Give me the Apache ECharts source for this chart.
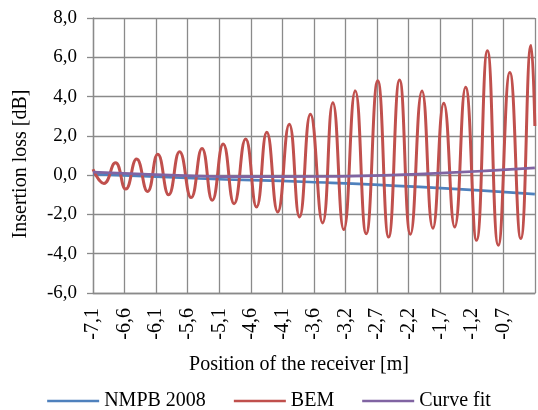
<!DOCTYPE html>
<html>
<head>
<meta charset="utf-8">
<script src="https://cdn.jsdelivr.net/npm/echarts@6/dist/echarts.min.js"></script>
<style>
  html, body { margin: 0; padding: 0; background: #fff; }
  #chart { width: 538px; height: 410px; }
</style>
</head>
<body>
<div id="chart"></div>
<script>
// x axis: receiver position [m], labelled every X_STEP metres from X_START
const X_START = -7.1;
const X_STEP = 0.4923;
const X_LABELS = ["-7,1", "-6,6", "-6,1", "-5,6", "-5,1", "-4,6", "-4,1", "-3,6", "-3,2", "-2,7", "-2,2", "-1,7", "-1,2", "-0,7", ""];

// BEM insertion loss, read at its peaks and troughs [m, dB]
const BEM_X = [-7.10, -6.93, -6.75, -6.59, -6.42, -6.25, -6.09, -5.92, -5.75, -5.57,
  -5.40, -5.24, -5.07, -4.90, -4.72, -4.55, -4.39, -4.22, -4.04, -3.88,
  -3.71, -3.52, -3.36, -3.19, -3.01, -2.84, -2.66, -2.49, -2.32, -2.15,
  -1.97, -1.80, -1.63, -1.46, -1.29, -1.12, -0.95, -0.78, -0.60, -0.43,
  -0.27, -0.21];
const BEM_Y = [0.30, -0.42, 0.63, -0.71, 0.82, -0.83, 1.06, -1.00, 1.19, -1.14,
  1.36, -1.28, 1.58, -1.45, 1.84, -1.62, 2.18, -1.87, 2.59, -2.13,
  3.10, -2.43, 3.69, -2.77, 4.29, -2.98, 4.80, -3.15, 4.85, -3.01,
  4.29, -2.70, 3.66, -2.64, 4.47, -3.32, 6.33, -3.57, 5.22, -3.23,
  6.60, 2.50];

// NMPB 2008
const NMPB_X = [-7.10, -5.44, -3.72, -2.01, -0.21];
const NMPB_Y = [0.05, -0.17, -0.35, -0.60, -0.97];

// Curve fit
const FIT_X = [-7.10, -5.44, -4.81, -3.57, -1.85, -0.21];
const FIT_Y = [0.15, -0.05, -0.08, -0.07, 0.08, 0.37];

const toSlot = (m) => (m - X_START) / X_STEP;
const pairs = (xs, ys) => xs.map((x, i) => [toSlot(x), ys[i]]);

const FONT = "'Liberation Serif', 'Times New Roman', serif";
const GRID_COLOR = "#8a8a8a";

const chart = echarts.init(document.getElementById("chart"), null, { renderer: "canvas" });

chart.setOption({
  backgroundColor: "#fff",
  animation: false,
  textStyle: { fontFamily: FONT, color: "#000" },
  grid: { left: 93, right: 3, top: 18, bottom: 117, outerBoundsMode: "none" },
  legend: {
    top: 386,
    left: "center",
    icon: "rect",
    itemWidth: 52,
    itemHeight: 2.5,
    itemGap: 28,
    textStyle: { fontFamily: FONT, fontSize: 20, color: "#000" },
    data: ["NMPB 2008", "BEM", "Curve fit"],
  },
  xAxis: {
    type: "value",
    min: 0,
    max: 14,
    interval: 1,
    name: "Position of the receiver [m]",
    nameLocation: "middle",
    nameGap: 62,
    nameTextStyle: { fontFamily: FONT, fontSize: 20, color: "#000", padding: [0, 30, 0, 0] },
    axisLine: { onZero: false, lineStyle: { color: GRID_COLOR, width: 1.3 } },
    axisTick: { show: false },
    axisLabel: {
      rotate: 90,
      margin: 15,
      fontFamily: FONT,
      fontSize: 20,
      color: "#000",
      formatter: (v) => X_LABELS[Math.round(v)] ?? "",
    },
    splitLine: { show: true, lineStyle: { color: GRID_COLOR, width: 1.3 } },
  },
  yAxis: {
    type: "value",
    min: -6,
    max: 8,
    interval: 2,
    name: "Insertion loss [dB]",
    nameLocation: "middle",
    nameGap: 62,
    nameTextStyle: { fontFamily: FONT, fontSize: 20, color: "#000", padding: [0, 17, 0, 0] },
    axisLine: { show: true, onZero: false, lineStyle: { color: GRID_COLOR, width: 1.3 } },
    axisTick: { show: true, length: 6, lineStyle: { color: GRID_COLOR, width: 1.3 } },
    axisLabel: {
      margin: 16,
      fontFamily: FONT,
      fontSize: 19,
      color: "#000",
      formatter: (v) => v.toFixed(1).replace(".", ","),
    },
    splitLine: { lineStyle: { color: GRID_COLOR, width: 1.3 } },
  },
  series: [
    {
      name: "NMPB 2008",
      type: "line",
      data: pairs(NMPB_X, NMPB_Y),
      smooth: true,
      symbol: "none",
      lineStyle: { width: 2.7, color: "#4f81bd" },
      itemStyle: { color: "#4f81bd" },
    },
    {
      name: "BEM",
      type: "line",
      data: pairs(BEM_X, BEM_Y),
      smooth: 0.5,
      symbol: "none",
      lineStyle: { width: 3, color: "#c0504d" },
      itemStyle: { color: "#c0504d" },
    },
    {
      name: "Curve fit",
      type: "line",
      data: pairs(FIT_X, FIT_Y),
      smooth: true,
      symbol: "none",
      lineStyle: { width: 2.7, color: "#8064a2" },
      itemStyle: { color: "#8064a2" },
    },
  ],
});
</script>
</body>
</html>
